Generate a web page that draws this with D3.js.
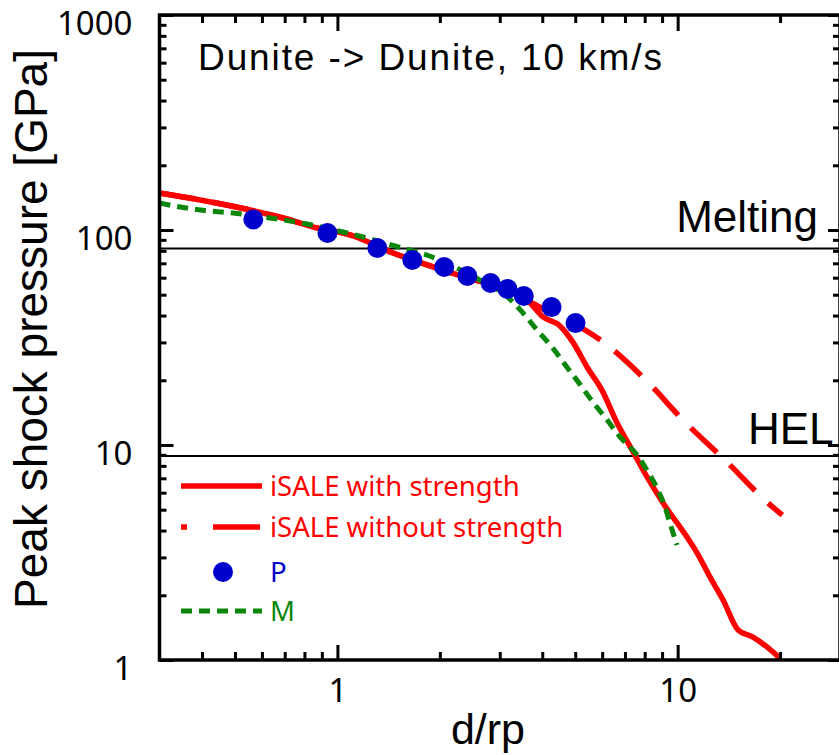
<!DOCTYPE html>
<html>
<head>
<meta charset="utf-8">
<script src="https://cdn.jsdelivr.net/npm/d3@7"></script>
<style>
  html, body { margin: 0; padding: 0; background: #fff; }
  svg { display: block; }
</style>
</head>
<body>
<div id="chart"></div>
<script>
/* =========================
   DATA
   ========================= */

// iSALE with strength (solid red)
const withX = [0.30, 0.395, 0.554, 0.692, 0.871, 1.089, 1.457, 1.834, 2.42, 2.81, 3.21, 3.61,
  4.02, 4.51, 4.92, 5.42, 5.99, 6.63, 7.35, 8.13, 9.06, 10.65, 11.4, 12.45, 13.6, 15.05, 16.6, 18.3, 19.95];
const withY = [148.6, 137.9, 123.9, 113.7, 102.2, 94.8, 78.2, 68.8, 59.8, 56.1, 52.0, 47.2,
  39.4, 35.8, 30.1, 23.0, 18.0, 12.7, 9.47, 7.10, 5.37, 3.73, 3.15, 2.43, 1.90, 1.38, 1.28, 1.15, 1.02];

// iSALE without strength (dashed red)
const withoutX = [0.30, 0.395, 0.554, 0.692, 0.871, 1.089, 1.457, 1.834, 2.42, 2.81, 3.21, 3.61,
  4.07, 5.16, 6.20, 8.07, 10.5, 13.95, 18.3, 20.3];
const withoutY = [148.6, 137.9, 123.9, 113.7, 102.2, 94.8, 78.2, 68.8, 59.8, 56.1, 52.0, 47.2,
  42.5, 35.4, 29.2, 20.0, 12.8, 8.34, 5.43, 4.72];

// P (blue dots)
const pX = [0.566, 0.935, 1.31, 1.66, 2.06, 2.41, 2.82, 3.16, 3.53, 4.26, 5.01];
const pY = [112, 96.8, 82.5, 72.5, 67.3, 61.1, 56.7, 53.2, 49.3, 43.8, 36.9];

// M (dashed green)
const mX = [0.30, 0.345, 0.395, 0.493, 0.634, 0.814, 1.039, 1.19, 1.476, 1.897, 2.62, 3.11,
  3.49, 3.86, 4.27, 4.73, 5.13, 5.64, 6.20, 6.77, 7.60, 8.18, 8.75, 9.18, 9.49, 9.95];
const mY = [133.5, 127.9, 123.9, 119.9, 113.7, 106.6, 97.9, 92.8, 84.3, 74.9, 58.5, 49.9,
  41.6, 34.3, 28.6, 23.0, 19.4, 15.8, 13.1, 10.9, 8.98, 7.49, 6.18, 5.15, 4.34, 3.43];

// reference levels
const levelNames = ["Melting", "HEL"];
const levelValues = [82, 8.9];

// ticks
const xMajor = [1, 10];
const xMinor = [0.4, 0.5, 0.6, 0.7, 0.8, 0.9, 2, 3, 4, 5, 6, 7, 8, 9, 20];
const yMajor = [1, 10, 100, 1000];
const yMinor = [2, 3, 4, 5, 6, 7, 8, 9, 20, 30, 40, 50, 60, 70, 80, 90, 200, 300, 400, 500, 600, 700, 800, 900];

const legendLabels = ["iSALE with strength", "iSALE without strength", "P", "M"];

/* =========================
   CONFIGURATION
   ========================= */

const WIDTH = 839;
const HEIGHT = 755;
const LEFT = 159.5, RIGHT = 840, TOP = 15, BOTTOM = 660;
const RED = "#ff0000", BLUE = "#0000cc", GREEN = "#0a870a";

const x = d3.scaleLog().domain([0.3, 30]).range([LEFT, RIGHT]);
const y = d3.scaleLog().domain([1, 1000]).range([BOTTOM, TOP]);

const svg = d3.select("#chart").append("svg")
  .attr("width", WIDTH)
  .attr("height", HEIGHT);

svg.append("defs").append("clipPath").attr("id", "plot")
  .append("rect")
  .attr("x", LEFT).attr("y", TOP)
  .attr("width", RIGHT - LEFT).attr("height", BOTTOM - TOP);

const plot = svg.append("g").attr("clip-path", "url(#plot)");

/* =========================
   LEVEL LINES
   ========================= */

plot.selectAll(".level")
  .data(levelValues)
  .enter().append("line")
  .attr("x1", LEFT).attr("x2", RIGHT)
  .attr("y1", d => y(d)).attr("y2", d => y(d))
  .attr("stroke", "#000")
  .attr("stroke-width", 2);

svg.append("text")
  .attr("x", 818).attr("y", y(levelValues[0]) - 17)
  .attr("text-anchor", "end")
  .attr("font-family", "Liberation Sans, Arial, sans-serif")
  .attr("font-size", 44)
  .text(levelNames[0]);

svg.append("text")
  .attr("x", 748).attr("y", y(levelValues[1]) - 12)
  .attr("font-family", "Liberation Sans, Arial, sans-serif")
  .attr("font-size", 44)
  .text(levelNames[1]);

/* =========================
   CURVES
   ========================= */

const line = d3.line()
  .x(d => x(d[0]))
  .y(d => y(d[1]))
  .curve(d3.curveMonotoneX);

plot.append("path")
  .datum(d3.zip(withX, withY))
  .attr("d", line)
  .attr("fill", "none")
  .attr("stroke", RED)
  .attr("stroke-width", 5.5);

plot.append("path")
  .datum(d3.zip(withoutX, withoutY))
  .attr("d", line)
  .attr("fill", "none")
  .attr("stroke", RED)
  .attr("stroke-width", 5.5)
  .attr("stroke-dasharray", "36,18");

plot.append("path")
  .datum(d3.zip(mX, mY))
  .attr("d", line)
  .attr("fill", "none")
  .attr("stroke", GREEN)
  .attr("stroke-width", 5)
  .attr("stroke-dasharray", "11,7");

plot.selectAll(".dot")
  .data(d3.zip(pX, pY))
  .enter().append("circle")
  .attr("cx", d => x(d[0]))
  .attr("cy", d => y(d[1]))
  .attr("r", 10)
  .attr("fill", BLUE);

/* =========================
   AXES
   ========================= */

function styleAxis(g) {
  g.select(".domain").remove();
  g.selectAll(".tick line").attr("stroke", "#000").attr("stroke-width", 3);
}

const tickFont = "Noto Sans, sans-serif";

// bottom
svg.append("g")
  .attr("transform", `translate(0,${BOTTOM})`)
  .call(d3.axisBottom(x).tickValues(xMajor).tickSize(-15).tickFormat(d3.format("d")))
  .call(styleAxis)
  .call(g => g.selectAll("text")
    .attr("y", 42).attr("dy", 0)
    .attr("font-family", tickFont).attr("font-size", 33).attr("fill", "#000"));
svg.append("g")
  .attr("transform", `translate(0,${BOTTOM})`)
  .call(d3.axisBottom(x).tickValues(xMinor).tickSize(-8).tickFormat(""))
  .call(styleAxis);

// top
svg.append("g")
  .attr("transform", `translate(0,${TOP})`)
  .call(d3.axisTop(x).tickValues(xMajor).tickSize(-16).tickFormat(""))
  .call(styleAxis);
svg.append("g")
  .attr("transform", `translate(0,${TOP})`)
  .call(d3.axisTop(x).tickValues(xMinor).tickSize(-8).tickFormat(""))
  .call(styleAxis);

// left
svg.append("g")
  .attr("transform", `translate(${LEFT},0)`)
  .call(d3.axisLeft(y).tickValues(yMajor).tickSize(-14).tickPadding(27).tickFormat(d3.format("d")))
  .call(styleAxis)
  .call(g => g.selectAll("text")
    .attr("dy", 19)
    .attr("font-family", tickFont).attr("font-size", 33).attr("fill", "#000"));
svg.append("g")
  .attr("transform", `translate(${LEFT},0)`)
  .call(d3.axisLeft(y).tickValues(yMinor).tickSize(-7).tickFormat(""))
  .call(styleAxis);

// right
svg.append("g")
  .attr("transform", `translate(${RIGHT},0)`)
  .call(d3.axisRight(y).tickValues(yMajor).tickSize(-12).tickFormat(""))
  .call(styleAxis);
svg.append("g")
  .attr("transform", `translate(${RIGHT},0)`)
  .call(d3.axisRight(y).tickValues(yMinor).tickSize(-7).tickFormat(""))
  .call(styleAxis);

// frame
svg.append("rect")
  .attr("x", LEFT).attr("y", TOP)
  .attr("width", RIGHT - LEFT).attr("height", BOTTOM - TOP)
  .attr("fill", "none")
  .attr("stroke", "#000")
  .attr("stroke-width", 3.5);

/* =========================
   LABELS
   ========================= */

svg.append("text")
  .attr("x", 198).attr("y", 70)
  .attr("font-family", "Liberation Sans, Arial, sans-serif")
  .attr("font-size", 37)
  .attr("textLength", 464)
  .attr("lengthAdjust", "spacing")
  .text("Dunite -> Dunite, 10 km/s");

svg.append("text")
  .attr("x", 488).attr("y", 744)
  .attr("text-anchor", "middle")
  .attr("font-family", "Liberation Sans, Arial, sans-serif")
  .attr("font-size", 43)
  .text("d/rp");

svg.append("text")
  .attr("transform", "translate(47,329) rotate(-90)")
  .attr("text-anchor", "middle")
  .attr("font-family", "Liberation Sans, Arial, sans-serif")
  .attr("font-size", 46)
  .text("Peak shock pressure [GPa]");

/* =========================
   LEGEND
   ========================= */

const legend = svg.append("g").attr("font-family", tickFont).attr("font-size", 27.5);
const legY = [486, 527, 572, 611];
const legColors = [RED, RED, BLUE, GREEN];

legend.append("line")
  .attr("x1", 181).attr("x2", 262).attr("y1", legY[0]).attr("y2", legY[0])
  .attr("stroke", RED).attr("stroke-width", 5.5);
legend.append("line")
  .attr("x1", 181).attr("x2", 260).attr("y1", legY[1]).attr("y2", legY[1])
  .attr("stroke", RED).attr("stroke-width", 5.5)
  .attr("stroke-dasharray", "6,26,47");
legend.append("circle")
  .attr("cx", 223).attr("cy", legY[2]).attr("r", 10)
  .attr("fill", BLUE);
legend.append("line")
  .attr("x1", 181).attr("x2", 262).attr("y1", legY[3]).attr("y2", legY[3])
  .attr("stroke", GREEN).attr("stroke-width", 5)
  .attr("stroke-dasharray", "11,7");

legend.selectAll(".lab")
  .data(legendLabels)
  .enter().append("text")
  .attr("x", 270)
  .attr("y", (d, i) => legY[i] + 10)
  .attr("fill", (d, i) => legColors[i])
  .text(d => d);
</script>
</body>
</html>
